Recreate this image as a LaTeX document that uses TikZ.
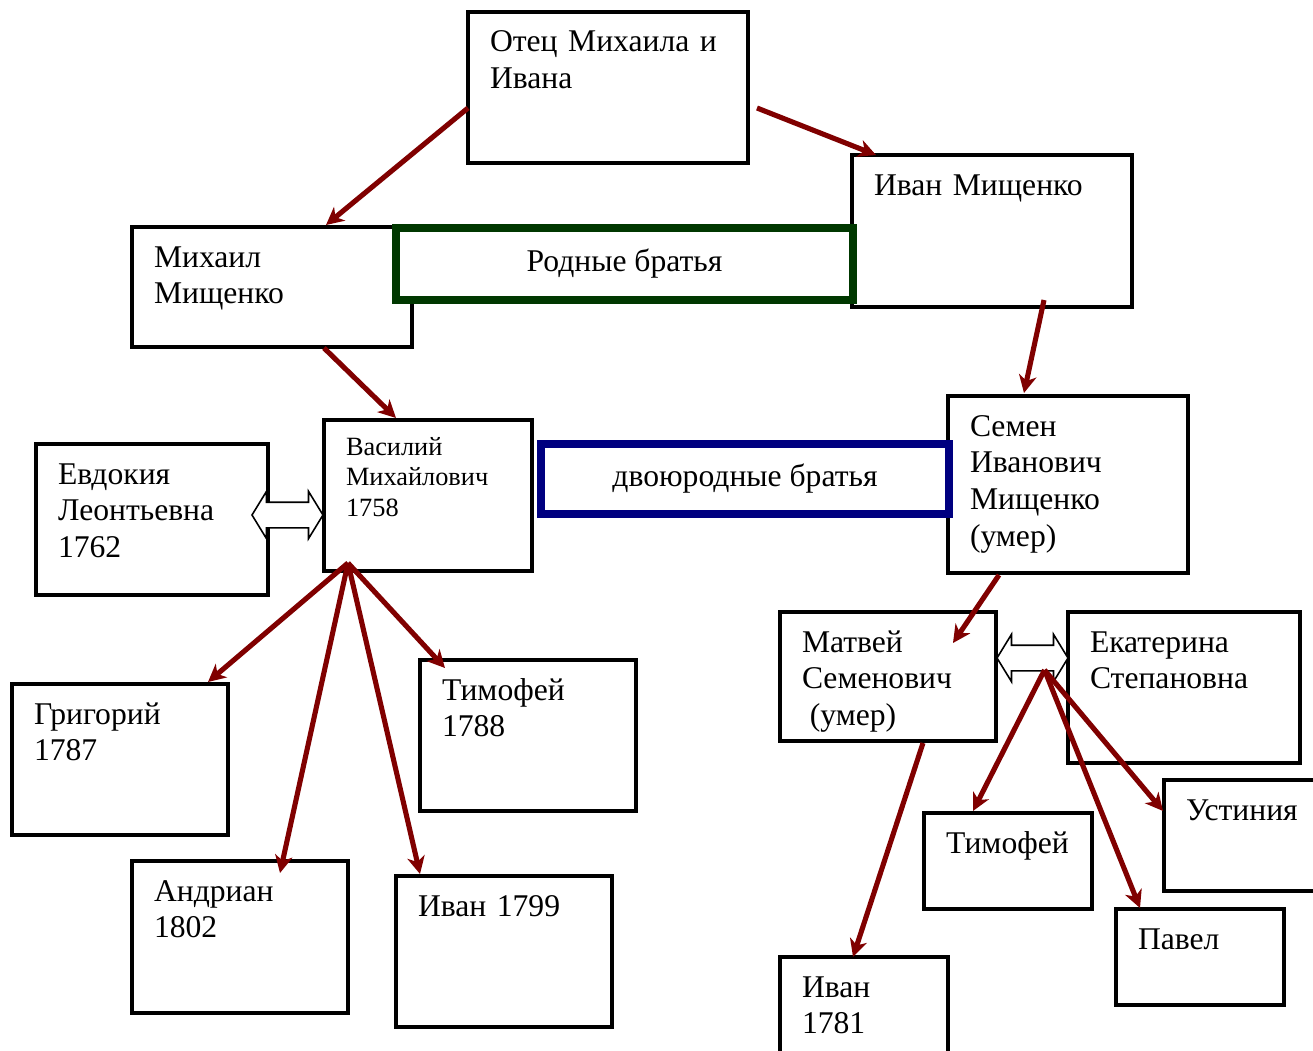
\documentclass[tikz,border=0pt]{standalone}
\usepackage{fontspec}
\setmainfont{Liberation Serif}
\usepackage{tikz}
\usetikzlibrary{positioning, calc, arrows.meta, shapes.arrows}

\newdimen\px
\px=0.02cm
\newcommand{\boxfont}{\fontsize{18}{21}\selectfont}
\newcommand{\smallboxfont}{\fontsize{15}{17.6}\selectfont}
\definecolor{kinred}{RGB}{128,0,0}
\definecolor{sibgreen}{RGB}{0,56,0}
\definecolor{cousinblue}{RGB}{0,0,128}

\tikzset{
    person/.style 2 args={draw, line width=2.2pt, fill=white, anchor=north west,
        outer sep=0pt, inner ysep=0pt, inner xsep=22*\px, align=left, font=\boxfont,
        text width={(#1-44)*\px}, text height=40*\px, text depth={(#2-40)*\px}},
    band/.style={draw=#1, line width=4pt, fill=white, outer sep=0pt, font=\boxfont},
    couple/.style={double arrow, draw, line width=0.9pt, fill=white, inner xsep=0pt,
        inner ysep=12*\px, minimum height=71*\px, double arrow head extend=6.2pt,
        double arrow tip angle=117},
    kin/.style={draw=kinred, line width=2.9pt, -{Stealth[length=10pt, width=10pt, inset=3pt]}}
}

\begin{document}
\begin{tikzpicture}[x=0.02cm, y=-0.02cm]
    \useasboundingbox (0,0) rectangle (1313,1051);

    % Family members
    \node[person={280}{151}] (father) at (468,12) {Отец Михаила и\\Ивана};
    \node[person={280}{152}] (ivan) at (852,155) {Иван Мищенко};
    \node[person={280}{120}] (mikhail) at (132,227) {Михаил\\Мищенко};
    \node[person={208}{151}, font=\smallboxfont, text height=35*\px, text depth=116*\px] (vasily) at (324,420) {Василий\\Михайлович\\1758};
    \node[person={240}{177}] (semen) at (948,396) {Семен\\Иванович\\Мищенко\\(умер)};
    \node[person={232}{151}] (evdokia) at (36,444) {Евдокия\\Леонтьевна\\1762};
    \node[person={216}{151}] (grigory) at (12,684) {Григорий\\1787};
    \node[person={216}{151}] (timofeyA) at (420,660) {Тимофей\\1788};
    \node[person={216}{152}] (andrian) at (132,861) {Андриан\\1802};
    \node[person={216}{151}] (ivanB) at (396,876) {Иван 1799};
    \node[person={216}{129}] (matvey) at (780,612) {Матвей\\Семенович\\\hspace*{.25em}(умер)};
    \node[person={232}{151}] (ekaterina) at (1068,612) {Екатерина\\Степановна};
    \node[person={168}{96}] (timofeyB) at (924,813) {Тимофей};
    \node[person={200}{111}] (ustinia) at (1164,780) {Устиния};
    \node[person={168}{96}] (pavel) at (1116,909) {Павел};
    \node[person={168}{150}] (ivanC) at (780,957) {Иван\\1781};

    % Relation bands
    \node[band=sibgreen, minimum width=457*\px, minimum height=72*\px] (siblings) at (624.5,264) {Родные братья};
    \node[band=cousinblue, minimum width=408*\px, minimum height=70*\px] (cousins) at (745,479) {двоюродные братья};

    % Marriages
    \node[couple] (marriageA) at (287.5,515) {};
    \node[couple] (marriageB) at (1032.5,658) {};

    % Descent
    \coordinate (vasilyfan) at ([shift={(24,-8)}]vasily.south west);
    \coordinate (matveyfan) at ([shift={(12,12)}]marriageB.center);

    \draw[kin] ([shift={(0,20.5)}]father.west) -- ([shift={(54,-2)}]mikhail.north);
    \draw[kin] ([shift={(9,20.5)}]father.east) -- ([shift={(24,0)}]ivan.north west);
    \draw[kin] ([shift={(52,-7)}]ivan.south) -- ([shift={(-44,-3)}]semen.north);
    \draw[kin] ([shift={(52,1)}]mikhail.south) -- ([shift={(-32,-2)}]vasily.north);
    \draw[kin] ([shift={(-69,2)}]semen.south) -- ([shift={(-43,31)}]matvey.north east);
    \draw[kin] (vasilyfan) -- ([shift={(88,-2)}]grigory.north);
    \draw[kin] (vasilyfan) -- ([shift={(40,12)}]andrian.north);
    \draw[kin] (vasilyfan) -- ([shift={(24,-2)}]ivanB.north west);
    \draw[kin] (vasilyfan) -- ([shift={(25,8)}]timofeyA.north west);
    \draw[kin] ([shift={(35,2)}]matvey.south) -- ([shift={(73,0)}]ivanC.north west);
    \draw[kin] (matveyfan) -- ([shift={(-35,-2)}]timofeyB.north);
    \draw[kin] (matveyfan) -- ([shift={(24,-1)}]pavel.north west);
    \draw[kin] (matveyfan) -- ([shift={(-1,31)}]ustinia.north west);
\end{tikzpicture}
\end{document}
